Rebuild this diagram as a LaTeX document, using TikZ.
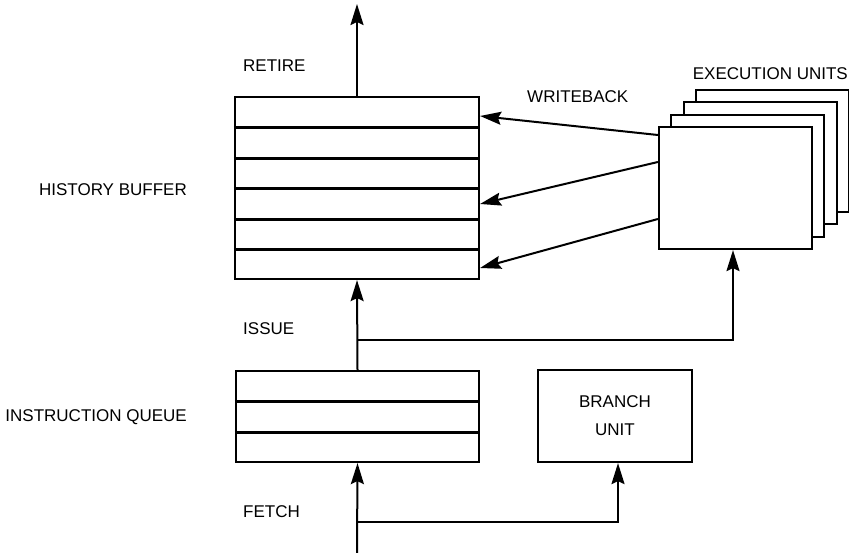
\documentclass[tikz,border=0pt]{standalone}
\usepackage{fontspec}
\setmainfont{Liberation Sans}
\usetikzlibrary{arrows.meta}

\tikzset{
    box/.style={draw, line width=2.2pt, rectangle, inner sep=0pt, fill=white},
    slot/.style={line width=2.2pt},
    link/.style={line width=2pt, -{Stealth[length=21pt, width=13pt, inset=3pt]}},
    lbl/.style={font=\fontsize{17}{28}\selectfont, inner sep=0pt},
}

\begin{document}
\begin{tikzpicture}[x=1pt, y=-1pt]

        \useasboundingbox (0,0) rectangle (849,553);

        % history buffer with six slots
        \node[box, minimum width=244pt, minimum height=182pt] (hb) at (357,188) {};
        \foreach \y in {127.5, 158.5, 188.5, 219.5, 249.5}{
            \draw[slot] (hb.west |- 0,\y) -- (hb.east |- 0,\y);
        }

        % instruction queue with three slots
        \node[box, minimum width=243pt, minimum height=91pt] (iq) at (357.5,416.5) {};
        \foreach \y in {401.5, 432.5}{
            \draw[slot] (iq.west |- 0,\y) -- (iq.east |- 0,\y);
        }

        % stacked execution units
        \foreach \i in {3,2,1}{
            \node[box, minimum width=153pt, minimum height=122pt] (eu\i) at (735.5+12.3*\i, 188-12.3*\i) {};
        }
        \node[box, minimum width=153pt, minimum height=122pt] (eu) at (735.5,188) {};

        \node[box, lbl, minimum width=154pt, minimum height=92pt, align=center] (bu) at (615,416) {BRANCH\\UNIT};

        % labels
        \node[lbl, anchor=west] (retirelbl) at (243,66) {RETIRE};
        \node[lbl, anchor=west] (wblbl) at (527,97) {WRITEBACK};
        \node[lbl, anchor=east] (eulbl) at (848,74) {EXECUTION UNITS};
        \node[lbl, anchor=east] (hblbl) at (187,190) {HISTORY BUFFER};
        \node[lbl, anchor=west] (issuelbl) at (243,329) {ISSUE};
        \node[lbl, anchor=east] (iqlbl) at (187,417) {INSTRUCTION QUEUE};
        \node[lbl, anchor=west] (fetchlbl) at (243,512) {FETCH};

        % retire
        \coordinate (retire) at (357,4);
        \draw[link] (hb.north) -- (retire);

        % writeback
        \draw[link] ([yshift=53pt]eu.west) -- ([yshift=72pt]hb.east);
        \draw[link] ([yshift=26pt]eu.west) -- ([yshift=-16pt]hb.east);
        \draw[link] ([yshift=-31pt]eu.west) -- ([yshift=-80pt]hb.east);

        % issue
        \coordinate (issue) at (357,340);
        \draw[link] (iq.north) -- (hb.south);
        \draw[link] (issue) -| ([xshift=-2.5pt]eu.south);

        % fetch
        \coordinate (fetchin) at (357,553);
        \coordinate (fetch) at (357,522);
        \draw[link] (fetchin) -- (iq.south);
        \draw[link] (fetch) -| ([xshift=3pt]bu.south);

    \end{tikzpicture}
\end{document}
